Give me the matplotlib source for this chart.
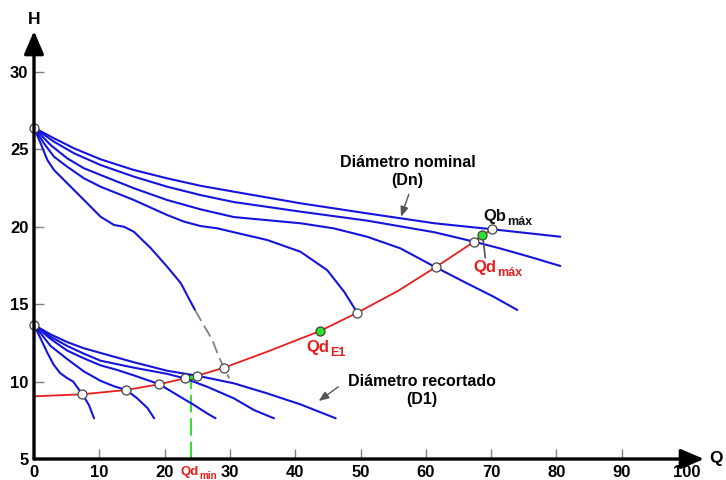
import numpy as np
import matplotlib.pyplot as plt

plt.rcParams['font.family'] = ['Liberation Sans', 'DejaVu Sans']
plt.rcParams['font.weight'] = 'bold'

# --- curves (Q, H) ---
# nominal diameter (Dn) family
n1_q = [0, 3.06, 6.13, 10.2, 15.3, 20.4, 25.5, 30.6, 40.8, 51.0, 61.3, 70.2, 80.6]
n1_h = [26.4, 25.72, 25.07, 24.36, 23.67, 23.13, 22.65, 22.27, 21.52, 20.87, 20.23, 19.84, 19.36]
n2_q = [0, 3.06, 6.13, 10.2, 15.3, 20.4, 25.5, 30.6, 40.8, 51.0, 61.3, 67.4, 71.4, 76, 80.6]
n2_h = [26.4, 25.5, 24.75, 23.99, 23.24, 22.59, 22.05, 21.6, 20.98, 20.4, 19.65, 19.04, 18.6, 18.05, 17.47]
n3_q = [0, 2.55, 5.1, 7.66, 10.2, 15.3, 20.4, 25.5, 30.6, 40.8, 45.9, 51.0, 56.1, 61.5, 66.3, 70.4, 74.0]
n3_h = [26.4, 25.28, 24.42, 23.78, 23.35, 22.49, 21.73, 21.13, 20.63, 20.23, 19.9, 19.36, 18.61, 17.39,
        16.35, 15.48, 14.63]
n4_q = [0, 1.53, 3.06, 5.1, 7.66, 10.2, 15.3, 20.4, 23.0, 25.5, 28.1, 30.6, 35.7, 40.8, 44.9, 47.5, 49.5]
n4_h = [26.4, 25.39, 24.53, 23.88, 23.13, 22.59, 21.73, 20.76, 20.33, 20.05, 19.9, 19.65, 19.15, 18.39,
        17.2, 15.8, 14.45]
n5_q = [0, 1.02, 2.04, 3.06, 5.1, 7.66, 10.2, 12.25, 13.8, 15.3, 17.9, 20.4, 22.5, 23.7, 24.65]
n5_h = [26.4, 25.39, 24.32, 23.67, 22.81, 21.73, 20.65, 20.12, 20.0, 19.68, 18.61, 17.42, 16.35, 15.38, 14.63]
# dashed continuation of the last nominal curve
g_q = [24.65, 25.5, 27.3, 28.3, 29.1, 29.9]
g_h = [14.63, 14.0, 12.7, 11.6, 10.9, 10.2]

# trimmed diameter (D1) family
d1_q = [0, 1.0, 2.0, 3.0, 4.0, 5.0, 6.0, 7.4, 8.4, 9.2]
d1_h = [13.66, 12.8, 11.9, 11.1, 10.55, 10.25, 10.0, 9.18, 8.5, 7.63]
d2_q = [0, 2.55, 5.1, 7.66, 10.2, 12.25, 14.14, 15.8, 17.4, 18.4]
d2_h = [13.66, 12.3, 11.45, 10.65, 10.05, 9.7, 9.46, 8.92, 8.28, 7.63]
d3_q = [0, 2.55, 5.1, 7.66, 10.2, 12.76, 15.3, 19.2, 21.95, 24.5, 26.5, 27.8]
d3_h = [13.66, 12.75, 12.0, 11.5, 11.05, 10.75, 10.4, 9.83, 9.13, 8.49, 7.95, 7.63]
d4_q = [0, 2.55, 5.1, 7.66, 10.2, 15.3, 20.4, 23.07, 26.5, 30.6, 33.7, 36.75]
d4_h = [13.66, 12.9, 12.3, 11.8, 11.35, 10.9, 10.5, 10.21, 9.67, 8.92, 8.16, 7.63]
d5_q = [0, 2.55, 5.1, 7.66, 10.2, 15.3, 20.4, 25.0, 30.6, 35.7, 40.8, 46.2]
d5_h = [13.66, 13.05, 12.55, 12.15, 11.85, 11.25, 10.7, 10.38, 9.89, 9.24, 8.53, 7.63]

# system curve
sys_q = [0, 7.4, 14.14, 19.2, 23.07, 24.0, 25.0, 29.1, 35.7, 43.8, 49.5, 55.7, 61.5, 67.4, 68.65, 70.2]
sys_h = [9.05, 9.18, 9.46, 9.83, 10.21, 10.3, 10.38, 10.9, 11.93, 13.27, 14.45, 15.85, 17.39, 19.04,
         19.47, 19.84]

# marked points
open_q = [0, 0, 7.4, 14.14, 19.2, 23.07, 25.0, 29.1, 49.5, 61.5, 67.4, 70.2]
open_h = [26.4, 13.66, 9.18, 9.46, 9.83, 10.21, 10.38, 10.9, 14.45, 17.39, 19.04, 19.84]
green_q = [43.8, 68.65]
green_h = [13.27, 19.47]
qdmin_q, qdmin_h = 24.0, 10.3

x_ticks = [0, 10, 20, 30, 40, 50, 60, 70, 80, 90, 100]
y_ticks = [5, 10, 15, 20, 25, 30]

blue = '#1414dc'
red = '#e81e1e'
green = '#2ee02e'
gray = '#808080'

fig = plt.figure(figsize=(7.26, 4.8), dpi=100)
ax = fig.add_axes([34 / 726, 21 / 480, 670 / 726, 428 / 480])
ax.set_xlim(0, 102.6)
ax.set_ylim(5, 32.65)

for q, h in [(n1_q, n1_h), (n2_q, n2_h), (n3_q, n3_h), (n4_q, n4_h), (n5_q, n5_h),
             (d1_q, d1_h), (d2_q, d2_h), (d3_q, d3_h), (d4_q, d4_h), (d5_q, d5_h)]:
    ax.plot(q, h, color=blue, lw=1.5, solid_joinstyle='round', solid_capstyle='round', zorder=3)

ax.plot(g_q, g_h, color=gray, lw=1.3, dashes=(7, 3), zorder=3)
ax.plot(sys_q, sys_h, color=red, lw=1.3, solid_joinstyle='round', zorder=4)
ax.plot([qdmin_q, qdmin_q], [5, qdmin_h], color=green, lw=1.4, dashes=(9, 3), zorder=2)

ax.plot(open_q, open_h, 'o', ms=6.5, mfc='white', mec='#444444', mew=0.9, zorder=6, clip_on=False)
ax.plot(green_q, green_h, 'o', ms=6.5, mfc=green, mec='#444444', mew=0.9, zorder=6)
ax.plot([qdmin_q], [qdmin_h], 's', ms=3.5, mfc=green, mec='#444444', mew=0.6, zorder=6)

# axes with arrows
for s in ax.spines.values():
    s.set_visible(False)
arw = dict(arrowstyle='-|>,head_length=0.7,head_width=0.3', lw=2.4, color='black',
           shrinkA=0, shrinkB=0, mutation_scale=20)
ax.annotate('', xy=(102.6, 5), xytext=(0, 5), arrowprops=arw, annotation_clip=False, zorder=7)
ax.annotate('', xy=(0, 32.65), xytext=(0, 5), arrowprops=arw, annotation_clip=False, zorder=7)
ax.text(0, 33.4, 'H', ha='center', va='center', fontsize=12.5, fontweight='bold')
ax.text(104.4, 5, 'Q', ha='center', va='center', fontsize=12.5, fontweight='bold')

ax.set_xticks(x_ticks)
ax.set_yticks(y_ticks)
ax.tick_params(direction='in', length=7, width=1, color=gray, labelsize=12, pad=4)
ax.xaxis.get_major_ticks()[-1].tick1line.set_visible(False)
for lab in ax.get_xticklabels() + ax.get_yticklabels():
    lab.set_fontweight('bold')

# annotations
ax.text(57.2, 23.6, 'Diámetro nominal\n(Dn)', ha='center', va='center', fontsize=11.5,
        fontweight='bold', linespacing=1.25)
ax.annotate('', xy=(56.2, 20.65), xytext=(57.4, 22.1),
            arrowprops=dict(arrowstyle='-|>,head_length=0.5,head_width=0.2', color='#555555',
                            lw=1, shrinkA=0, shrinkB=0, mutation_scale=12))
ax.text(59.4, 9.45, 'Diámetro recortado\n(D1)', ha='center', va='center', fontsize=11.5,
        fontweight='bold', linespacing=1.25)
ax.annotate('', xy=(43.6, 8.75), xytext=(46.6, 9.66),
            arrowprops=dict(arrowstyle='-|>,head_length=0.5,head_width=0.2', color='#555555',
                            lw=1, shrinkA=0, shrinkB=0, mutation_scale=12))
ax.annotate('', xy=(68.75, 19.3), xytext=(69.1, 18.0),
            arrowprops=dict(arrowstyle='-', color='#555555', lw=1.2, shrinkA=0, shrinkB=0))


def sub_label(x, y, main, sub, color, size):
    ax.text(x, y, main, ha='right', va='baseline', fontsize=size, fontweight='bold',
            color=color, clip_on=False)
    ax.annotate(sub, (x, y), xytext=(0.5, -3), textcoords='offset points', ha='left',
                va='baseline', fontsize=size * 0.75, fontweight='bold', color=color,
                annotation_clip=False)


sub_label(72.4, 20.4, 'Qb', 'máx', '#111111', 12)
sub_label(70.8, 17.1, 'Qd', 'máx', red, 12)
sub_label(45.2, 11.9, 'Qd', 'E1', red, 12)
sub_label(25.2, 3.95, 'Qd', 'min', red, 9.5)

fig.savefig('out.png', dpi=100)
